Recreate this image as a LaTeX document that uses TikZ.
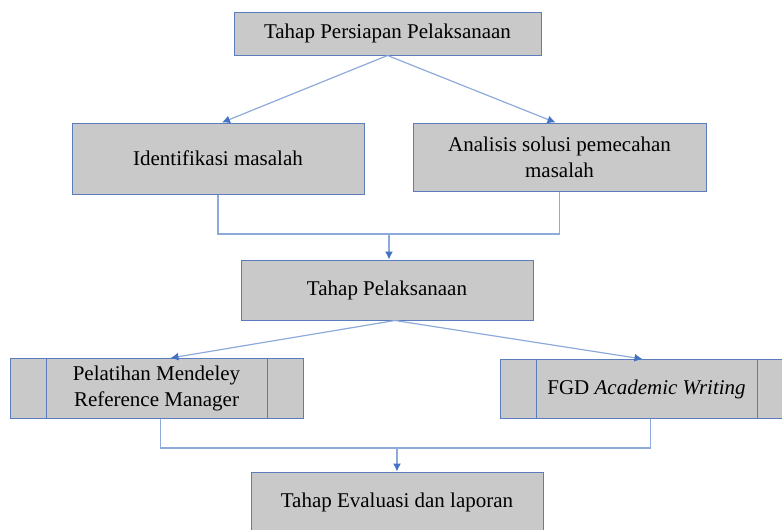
\documentclass[tikz,border=0pt]{standalone}
\usepackage{fontspec}
\setmainfont{Liberation Serif}
\usetikzlibrary{arrows.meta}
\definecolor{BoxFill}{HTML}{C9C9C9}
\definecolor{BoxLine}{HTML}{5B7DBE}
\definecolor{FlowLine}{HTML}{8EAADB}
\definecolor{TipColor}{HTML}{4472C4}
\tikzstyle{stage_box}=[rectangle,
                       minimum height=30pt,
                       minimum width=146pt,
                       draw=BoxLine,
                       line width=0.5pt,
                       fill=BoxFill,
                       align=center,
                       font=\fontsize{10.5}{13}\selectfont, ]
\tikzstyle{flow_line}=[draw=FlowLine, line width=0.6pt]
\tikzstyle{flow_arrow}=[flow_line, -{Latex[color=TipColor, length=4pt, width=4pt]}]

\begin{document}
\begin{tikzpicture}[x=0.5pt, y=-0.5pt]
    \useasboundingbox (0,0) rectangle (782,530);

    \node at (387.5, 33.5) (persiapan) [stage_box, minimum width=153.5pt, minimum height=21.5pt] {Tahap Persiapan Pelaksanaan};
    \node at (218, 158.5) (identifikasi) [stage_box, minimum height=35.5pt] {Identifikasi masalah};
    \node at (559.5, 157) (analisis) [stage_box, minimum width=146.5pt, minimum height=34pt] {Analisis solusi pemecahan\\masalah};
    \node at (387, 290) (pelaksanaan) [stage_box] {Tahap Pelaksanaan};
    \node at (156.5, 388.5) (pelatihan) [stage_box, minimum width=146.5pt] {Pelatihan Mendeley\\Reference Manager};
    \node at (646.5, 389) (fgd) [stage_box, minimum width=146.5pt, minimum height=29.5pt] {FGD \textit{Academic Writing}};
    \node at (397, 502) (evaluasi) [stage_box] {Tahap Evaluasi dan laporan};

    \foreach \n in {pelatihan, fgd} {
      \draw[draw=BoxLine, line width=0.5pt] ([xshift=18.5pt]\n.north west) -- ([xshift=18.5pt]\n.south west);
      \draw[draw=BoxLine, line width=0.5pt] ([xshift=-18pt]\n.north east) -- ([xshift=-18pt]\n.south east);
    }

    \coordinate (join_top) at (389, 234);
    \coordinate (join_bottom) at (397, 448);

    \draw[flow_arrow] (persiapan.south) -- ([xshift=2pt]identifikasi.north);
    \draw[flow_arrow] (persiapan.south) -- ([xshift=-2pt]analisis.north);
    \draw[flow_line] (identifikasi.south) |- (join_top) -| (analisis.south);
    \draw[flow_arrow] (join_top) -- (join_top |- pelaksanaan.north);

    \draw[flow_arrow] ([xshift=4pt]pelaksanaan.south) -- ([xshift=7pt]pelatihan.north);
    \draw[flow_arrow] ([xshift=4pt]pelaksanaan.south) -- ([xshift=-2pt]fgd.north);
    \draw[flow_line] ([xshift=2pt]pelatihan.south) |- (join_bottom) -| ([xshift=2pt]fgd.south);
    \draw[flow_arrow] (join_bottom) -- (join_bottom |- evaluasi.north);
\end{tikzpicture}
\end{document}
